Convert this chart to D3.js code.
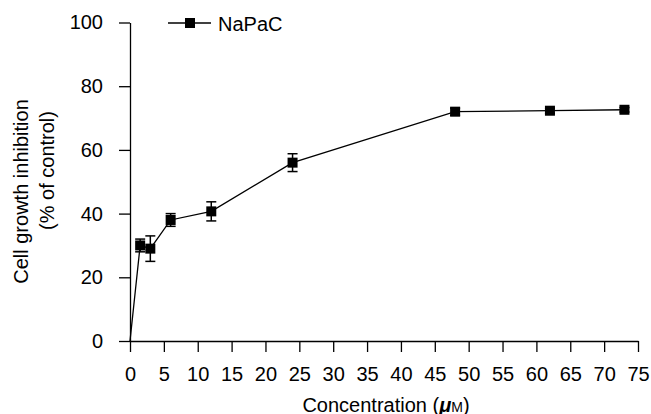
<!DOCTYPE html>
<html><head><meta charset="utf-8">
<script src="https://cdn.jsdelivr.net/npm/d3@7"></script>
<style>body{margin:0;background:#fff}text{font-family:"Liberation Sans",Arial,sans-serif;fill:#000}</style>
</head><body>
<svg id="c" width="651" height="414"></svg>
<script>
const concentrations = [0, 1.5, 3, 6, 12, 24, 48, 62, 73];
const inhibition = [0, 30, 29, 38, 40.7, 56, 72, 72.3, 72.6];
const errors = [0, 2, 4, 2, 3, 2.8, 1.1, 0.8, 0.7];
const xTicks = d3.range(0, 80, 5);
const yTicks = [0, 20, 40, 60, 80, 100];
const seriesName = "NaPaC";

const FS = 20;
const svg = d3.select("#c");
const x = d3.scaleLinear().domain([0, 75]).range([130, 638]);
const y = d3.scaleLinear().domain([0, 100]).range([341, 22.5]);

const xAxis = svg.append("g").attr("transform", "translate(0,341)")
  .call(d3.axisBottom(x).tickValues(xTicks).tickSize(11).tickPadding(15).tickSizeOuter(0));
const yAxis = svg.append("g").attr("transform", "translate(130,0)")
  .call(d3.axisLeft(y).tickValues(yTicks).tickSize(11).tickPadding(16).tickSizeOuter(0));
[xAxis, yAxis].forEach(a => {
  a.selectAll("path,line").attr("stroke", "#000").attr("stroke-width", 1.3);
  a.selectAll("text").attr("font-size", FS).attr("font-family", '"Liberation Sans",Arial,sans-serif');
});

const data = concentrations.map((c, i) => ({x: c, y: inhibition[i], e: errors[i]}));

svg.append("path").datum(data)
  .attr("fill", "none").attr("stroke", "#000").attr("stroke-width", 1.3)
  .attr("d", d3.line().x(d => x(d.x)).y(d => y(d.y)));

const pts = data.filter(d => d.x > 0);
const eb = svg.append("g").attr("stroke", "#000").attr("stroke-width", 1.5);
pts.forEach(d => {
  const cx = x(d.x);
  eb.append("line").attr("x1", cx).attr("x2", cx).attr("y1", y(d.y - d.e)).attr("y2", y(d.y + d.e));
  [d.y - d.e, d.y + d.e].forEach(v => eb.append("line").attr("x1", cx - 5).attr("x2", cx + 5).attr("y1", y(v)).attr("y2", y(v)));
});
svg.append("g").selectAll("rect").data(pts).join("rect")
  .attr("x", d => x(d.x) - 5).attr("y", d => y(d.y) - 5)
  .attr("width", 10).attr("height", 10).attr("fill", "#000");

// legend
const lg = svg.append("g");
lg.append("line").attr("x1", 168).attr("x2", 211).attr("y1", 23).attr("y2", 23).attr("stroke", "#000").attr("stroke-width", 1.3);
lg.append("rect").attr("x", 185).attr("y", 18).attr("width", 10).attr("height", 10).attr("fill", "#000");
lg.append("text").attr("x", 218).attr("y", 24).attr("dy", "0.35em").attr("font-size", FS).text(seriesName);

// axis titles
const xt = svg.append("text").attr("x", 386).attr("y", 411.5).attr("text-anchor", "middle").attr("font-size", FS);
xt.append("tspan").text("Concentration (");
xt.append("tspan").attr("font-style", "italic").attr("font-weight", "bold").text("μ");
xt.append("tspan").attr("font-size", 14).text("M");
xt.append("tspan").text(")");

svg.append("text").attr("transform", "translate(21,191.5) rotate(-90)").attr("dy", "0.35em")
  .attr("text-anchor", "middle").attr("font-size", FS).text("Cell growth inhibition");
svg.append("text").attr("transform", "translate(47,170.5) rotate(-90)").attr("dy", "0.35em")
  .attr("text-anchor", "middle").attr("font-size", FS).text("(% of control)");
</script>
</body></html>
